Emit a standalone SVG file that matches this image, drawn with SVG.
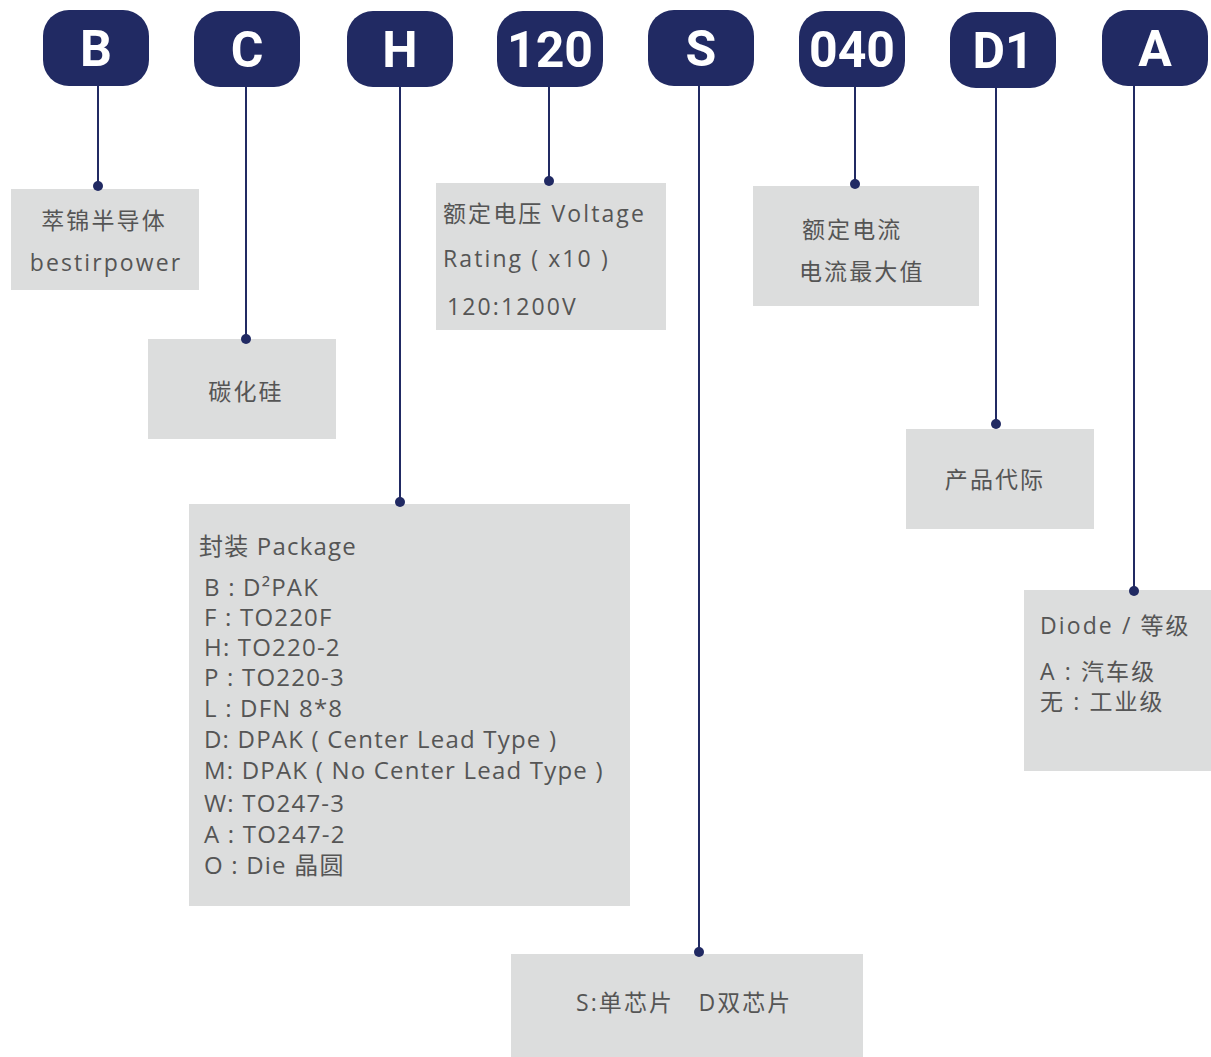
<svg xmlns="http://www.w3.org/2000/svg" width="1211" height="1057" viewBox="0 0 1211 1057">
<style>
.badge{fill:#212a63}
.bt{font-family:Roboto,"Open Sans",sans-serif;font-weight:bold;font-size:50px;fill:#fff;text-anchor:middle}
.box{fill:#dcdddd}
.t{font-family:"Open Sans","Noto Sans CJK SC",sans-serif;font-size:23px;fill:#555;letter-spacing:2.1px}
.p{font-family:"Open Sans","Noto Sans CJK SC",sans-serif;font-size:24px;fill:#555;letter-spacing:1.2px}
.c{stroke:#212a63;stroke-width:2;fill:none}
.d{fill:#212a63}
</style>
<rect width="1211" height="1057" fill="#fff"/>
<g id="badge-B"><rect class="badge" x="43" y="10" width="106" height="76" rx="26"/><text class="bt" x="96" y="66">B</text></g>
<g id="badge-C"><rect class="badge" x="194" y="11" width="106" height="76" rx="26"/><text class="bt" x="247" y="67">C</text></g>
<g id="badge-H"><rect class="badge" x="347" y="11" width="106" height="76" rx="26"/><text class="bt" x="400" y="67">H</text></g>
<g id="badge-120"><rect class="badge" x="497" y="11" width="106" height="76" rx="26"/><text class="bt" x="550" y="67">120</text></g>
<g id="badge-S"><rect class="badge" x="648" y="10" width="106" height="76" rx="26"/><text class="bt" x="701" y="66">S</text></g>
<g id="badge-040"><rect class="badge" x="799" y="11" width="106" height="76" rx="26"/><text class="bt" x="852" y="67">040</text></g>
<g id="badge-D1"><rect class="badge" x="950" y="12" width="106" height="76" rx="26"/><text class="bt" x="1003" y="68">D1</text></g>
<g id="badge-A"><rect class="badge" x="1102" y="10" width="106" height="76" rx="26"/><text class="bt" x="1155" y="66">A</text></g>

<g id="box-B"><rect class="box" x="11" y="189" width="188" height="101"/>
<text class="t" x="104" y="229" text-anchor="middle">萃锦半导体</text>
<text class="t" x="106" y="271" text-anchor="middle">bestirpower</text></g>
<g id="box-C"><rect class="box" x="148" y="339" width="188" height="100"/>
<text class="t" x="246" y="400" text-anchor="middle">碳化硅</text></g>
<g id="box-H"><rect class="box" x="189" y="504" width="441" height="402"/>
<text class="p" x="199" y="555">封装 Package</text>
<text class="p" x="204" y="596">B : D²PAK</text>
<text class="p" x="204" y="626">F : TO220F</text>
<text class="p" x="204" y="656">H: TO220-2</text>
<text class="p" x="204" y="686">P : TO220-3</text>
<text class="p" x="204" y="717">L : DFN 8*8</text>
<text class="p" x="204" y="748">D: DPAK ( Center Lead Type )</text>
<text class="p" x="204" y="779">M: DPAK ( No Center Lead Type )</text>
<text class="p" x="204" y="812">W: TO247-3</text>
<text class="p" x="204" y="843">A : TO247-2</text>
<text class="p" x="204" y="874">O : Die 晶圆</text></g>
<g id="box-120"><rect class="box" x="436" y="183" width="230" height="147"/>
<text class="t" x="443" y="222">额定电压 Voltage</text>
<text class="t" x="443" y="267">Rating ( x10 )</text>
<text class="t" x="447" y="315">120:1200V</text></g>
<g id="box-S"><rect class="box" x="511" y="954" width="352" height="103"/>
<text class="t" x="576" y="1011" xml:space="preserve">S:单芯片   D双芯片</text></g>
<g id="box-040"><rect class="box" x="753" y="186" width="226" height="120"/>
<text class="t" x="802" y="238">额定电流</text>
<text class="t" x="799" y="280">电流最大值</text></g>
<g id="box-D1"><rect class="box" x="906" y="429" width="188" height="100"/>
<text class="t" x="995" y="488" text-anchor="middle">产品代际</text></g>
<g id="box-A"><rect class="box" x="1024" y="590" width="187" height="181"/>
<text class="t" x="1040" y="634">Diode / 等级</text>
<text class="t" x="1040" y="680">A : 汽车级</text>
<text class="t" x="1040" y="710">无 : 工业级</text></g>

<g id="connectors">
<line class="c" x1="98" y1="86" x2="98" y2="186"/><circle class="d" cx="98" cy="186" r="5"/>
<line class="c" x1="246" y1="87" x2="246" y2="339"/><circle class="d" cx="246" cy="339" r="5"/>
<line class="c" x1="400" y1="87" x2="400" y2="502"/><circle class="d" cx="400" cy="502" r="5"/>
<line class="c" x1="549" y1="87" x2="549" y2="181"/><circle class="d" cx="549" cy="181" r="5"/>
<line class="c" x1="699" y1="86" x2="699" y2="952"/><circle class="d" cx="699" cy="952" r="5"/>
<line class="c" x1="855" y1="87" x2="855" y2="184"/><circle class="d" cx="855" cy="184" r="5"/>
<line class="c" x1="996" y1="88" x2="996" y2="424"/><circle class="d" cx="996" cy="424" r="5"/>
<line class="c" x1="1134" y1="86" x2="1134" y2="591"/><circle class="d" cx="1134" cy="591" r="5"/>
</g>
</svg>
